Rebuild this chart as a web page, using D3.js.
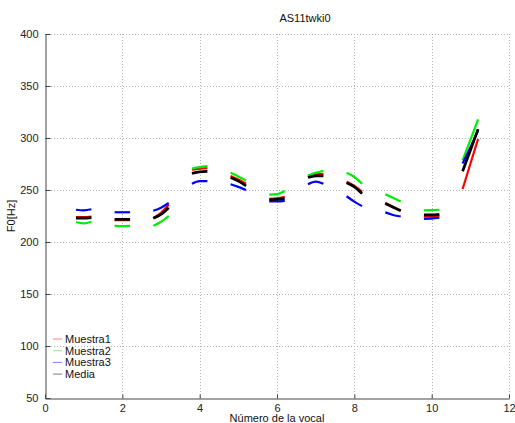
<!DOCTYPE html>
<html><head><meta charset="utf-8">
<script src="https://cdn.jsdelivr.net/npm/d3@7"></script>
<style>body{margin:0;background:#fff}svg{display:block}text{font-family:"Liberation Sans",Arial,sans-serif}</style>
</head><body><svg id="c" width="515" height="423"></svg>
<script>
const title = "AS11twki0";
const xLabel = "Número de la vocal";
const yLabel = "F0[Hz]";
const vowels = [1,2,3,4,5,6,7,8,9,10,11];
const xTicks = [0,2,4,6,8,10,12];
const yTicks = [50,100,150,200,250,300,350,400];
const seriesNames = ["Muestra1","Muestra2","Muestra3","Media"];
const seriesColors = ["#ff0000","#00ee00","#0000ff","#000000"];
// values at start / middle / end of each vowel segment
const muestra1 = [[224,224,224.5],[221,221,221],[223,228,236],[269.5,270.5,271],[263.5,260,256],[241.5,242,243.5],[263.5,265,265.5],[258,254,248.5],[237.5,234,230],[224.3,224.3,224.8],[251,275,299]];
const muestra2 = [[219,218,219.5],[215.5,215.3,215.5],[215.5,219.5,225],[270.5,272,273],[266.5,263,259],[245.5,246,249],[264,266.5,268.5],[266.5,262.5,256],[246,242.5,239],[230.5,230.7,231],[278.5,298,318]];
const muestra3 = [[231,230.5,231.5],[228.6,228.6,228.6],[230,233,237.5],[256,258.5,258.5],[255.5,253,250],[239,239,239.5],[255.5,258,256],[244,238.8,234.5],[228.5,226,224.5],[222.3,222.5,223.3],[275.5,291,307]];
const media = [[223,223,223.5],[221.8,221.8,221.8],[222.8,226.6,233],[266,267.5,268],[262,258.5,254],[240.5,241,242],[262,263.5,263.5],[257,253,246.5],[237,233.5,230],[226,226,226.5],[268,288,308.5]];
const segOffsets = [-0.2,0,0.2];

const svg = d3.select("#c");
const x = d3.scaleLinear().domain([0,12]).range([45,509]);
const y = d3.scaleLinear().domain([50,400]).range([398,34]);

// grid
const grid = svg.append("g").attr("stroke","#b4b4b4").attr("stroke-width",1).attr("stroke-dasharray","1,2");
grid.selectAll(".gx").data(xTicks.slice(1)).join("line")
  .attr("x1",d=>Math.round(x(d))+0.5).attr("x2",d=>Math.round(x(d))+0.5).attr("y1",y(400)).attr("y2",y(50));
grid.selectAll(".gy").data(yTicks.slice(1)).join("line")
  .attr("y1",d=>Math.round(y(d))+0.5).attr("y2",d=>Math.round(y(d))+0.5).attr("x1",x(0)).attr("x2",x(12));

// axes
const xAxis = d3.axisBottom(x).tickValues(xTicks).tickSizeInner(-4).tickSizeOuter(0).tickPadding(7);
const yAxis = d3.axisLeft(y).tickValues(yTicks).tickSizeInner(-5).tickSizeOuter(0).tickPadding(7);
const gx = svg.append("g").attr("transform",`translate(0,${y(50)+0.5})`).call(xAxis);
const gy = svg.append("g").attr("transform",`translate(${x(0)+0.5},0)`).call(yAxis);
[gx,gy].forEach(g=>{
  g.select(".domain").attr("stroke","#444");
  g.selectAll(".tick line").attr("stroke","#444");
  g.selectAll(".tick text").attr("fill","#222").style("font-size","11px").style("font-family","Liberation Sans, Arial, sans-serif");
});
gx.selectAll(".tick text").attr("dy","0.55em");

// title and labels
svg.append("text").attr("x",305).attr("y",22).attr("text-anchor","middle").style("font-size","11px").attr("fill","#111").text(title);
svg.append("text").attr("x",277).attr("y",422).attr("text-anchor","middle").style("font-size","11px").attr("fill","#111").text(xLabel);
svg.append("text").attr("transform","translate(15,216) rotate(-90)").attr("text-anchor","middle").style("font-size","11px").attr("fill","#111").text(yLabel);

// data lines
const line = d3.line().x(d=>x(d[0])).y(d=>y(d[1])).curve(d3.curveMonotoneX);
const allSeries = [muestra1,muestra2,muestra3,media];
allSeries.forEach((s,si)=>{
  const g = svg.append("g");
  s.forEach((vals,i)=>{
    const pts = vals.map((v,k)=>[vowels[i]+segOffsets[k],v]);
    g.append("path").attr("d",line(pts)).attr("fill","none")
      .attr("stroke",seriesColors[si]).attr("stroke-width",si===3?2.7:2.2).attr("stroke-linecap","butt");
  });
});

// legend
const lg = svg.append("g");
seriesNames.forEach((n,i)=>{
  const yy = 339 + i*11.7;
  lg.append("line").attr("x1",53).attr("x2",62).attr("y1",yy).attr("y2",yy)
    .attr("stroke",seriesColors[i]).attr("stroke-opacity",0.5).attr("stroke-width",1);
  lg.append("text").attr("x",65).attr("y",yy+4).style("font-size","11px").attr("fill","#111").text(n);
});
</script></body></html>
